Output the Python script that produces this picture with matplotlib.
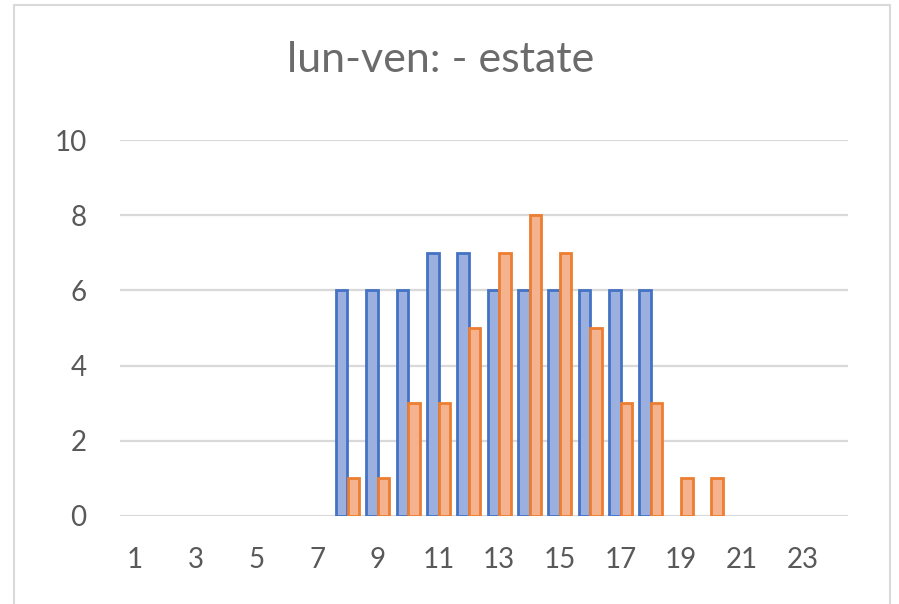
import matplotlib.pyplot as plt
import numpy as np
from matplotlib.patches import Rectangle

plt.rcParams['font.family'] = ['Lato', 'DejaVu Sans']

# hours 1..24
hours = list(range(1, 25))
blue_vals = [0, 0, 0, 0, 0, 0, 0, 6, 6, 6, 7, 7, 6, 6, 6, 6, 6, 6, 0, 0, 0, 0, 0, 0]
orange_vals = [0, 0, 0, 0, 0, 0, 0, 1, 1, 3, 3, 5, 7, 8, 7, 5, 3, 3, 1, 1, 0, 0, 0, 0]
xtick_labels = [str(h) for h in hours[::2]]
yticks = [0, 2, 4, 6, 8, 10]

fig = plt.figure(figsize=(8.99, 6.04), dpi=100)
ax = fig.add_axes([120 / 899, 88 / 604, 728 / 899, 376 / 604])

x = np.arange(len(hours))
w = 0.38
# no outline on empty bars (Excel draws nothing there)
lw_blue = [2 if v > 0 else 0 for v in blue_vals]
lw_orange = [2 if v > 0 else 0 for v in orange_vals]
ax.bar(x - w / 2, blue_vals, width=w, color='#9CB0DF', edgecolor='#4472C4',
       linewidth=lw_blue, zorder=3)
ax.bar(x + w / 2, orange_vals, width=w, color='#F5B28E', edgecolor='#ED7D31',
       linewidth=lw_orange, zorder=3)

ax.set_xlim(-0.5, len(hours) - 0.5)
ax.set_ylim(0, 10)
ax.set_yticks(yticks)
ax.set_xticks(x[::2])
ax.set_xticklabels(xtick_labels)
ax.yaxis.grid(True, color='#D9D9D9', linewidth=1.6, zorder=0)
ax.set_axisbelow(True)
for s in ax.spines.values():
    s.set_visible(False)
ax.tick_params(axis='both', length=0, labelsize=20, colors='#595959')
ax.tick_params(axis='y', pad=24)
ax.tick_params(axis='x', pad=22)

fig.text(441 / 899, 1 - 60 / 604, 'lun-ven: - estate', ha='center', va='center',
         fontsize=31, color='#6b6b6b')

fig.patches.append(Rectangle((14 / 899, -0.05), 876 / 899, 1.05 - 5 / 604,
                             transform=fig.transFigure, fill=False,
                             edgecolor='#D9D9D9', linewidth=1.5))

fig.savefig('out.png', dpi=100)
